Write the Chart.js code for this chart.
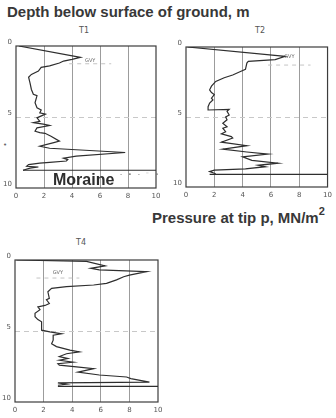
<!DOCTYPE html>
<html>
<head>
<meta charset="utf-8">
<script src="https://cdn.jsdelivr.net/npm/chart.js@4/dist/chart.umd.min.js"></script>
<style>
  body { margin:0; width:336px; height:418px; background:#fff; position:relative; overflow:hidden; font-family:"DejaVu Sans", sans-serif; }
  .panel { position:absolute; }
  .txt { position:absolute; white-space:nowrap; color:#3a3a3a; }
  .big { font-family:"Liberation Sans", Arial, sans-serif; font-weight:bold; font-size:15px; color:#383838; line-height:17px; }
  .small { font-size:8px; color:#555; }
</style>
</head>
<body>
<div class="txt big" style="left:7px;top:3px;">Depth below surface of ground, m</div>
<div class="txt big" style="left:152px;top:205px;">Pressure at tip p, MN/m<sup style="font-size:11px;position:relative;top:-2px;">2</sup></div>
<div class="txt small" style="left:79px;top:26px;">T1</div>
<div class="txt small" style="left:255px;top:26px;">T2</div>
<div class="txt small" style="left:76px;top:238px;">T4</div>
<div class="txt small" style="left:3px;top:141px;font-size:7px;color:#666;">•</div>

<div class="panel" style="left:0;top:24px;width:170px;height:184px;"><canvas id="c1"></canvas></div>
<div class="panel" style="left:170px;top:24px;width:166px;height:184px;"><canvas id="c2"></canvas></div>
<div class="panel" style="left:0;top:236px;width:170px;height:182px;"><canvas id="c4"></canvas></div>
<div class="txt big" style="left:53px;top:171px;font-size:16px;color:#2e2e2e;">Moraine</div>
<div class="txt" style="left:120px;top:170px;font-size:6px;color:#777;letter-spacing:2px;">- ∙ - ⁻ ∙</div>

<script>
// ---- data (pressure MN/m2, depth m) ----
var t1Pressure = [0.2, 4.6, 4.0, 3.4, 3.1, 2.4, 1.8, 1.6, 1.1, 0.9, 1.0, 1.1, 1.24, 1.5, 1.36, 1.5, 1.8, 1.7, 2.1, 1.5, 1.7, 1.24, 1.95, 2.4, 1.5, 1.36, 1.7, 2.07, 2.5, 3.1, 2.7, 1.7, 2.4, 7.8, 4.3, 3.4, 3.7, 3.6, 2.4, 1.7, 0.9, 0.76, 1.6, 1.0, 0.5];
var t1Depth    = [0.0, 0.8, 0.94, 1.06, 1.2, 1.4, 1.5, 1.76, 2.0, 2.2, 2.6, 3.06, 3.4, 3.5, 4.0, 4.35, 4.5, 4.7, 4.8, 5.06, 5.3, 5.4, 5.5, 5.6, 5.76, 6.0, 6.1, 6.15, 6.35, 6.7, 6.8, 7.06, 7.2, 7.5, 7.76, 7.9, 8.0, 8.1, 8.2, 8.25, 8.35, 8.47, 8.52, 8.6, 8.75];

var t2Pressure = [0.1, 7.0, 6.3, 4.4, 4.3, 4.2, 3.85, 3.3, 2.7, 2.1, 1.8, 1.67, 1.8, 2.0, 1.8, 1.9, 1.67, 1.56, 1.56, 3.05, 2.9, 3.05, 2.8, 2.9, 2.6, 2.9, 2.6, 2.8, 2.5, 3.2, 3.3, 2.5, 4.3, 2.6, 4.3, 5.8, 4.0, 4.65, 6.5, 5.1, 5.6, 4.2, 2.0, 1.67, 2.1];
var t2Depth    = [0.0, 0.67, 0.9, 1.03, 1.15, 1.6, 1.75, 2.0, 2.2, 2.46, 2.8, 3.06, 3.25, 3.4, 3.66, 3.78, 4.0, 4.26, 4.5, 4.45, 4.6, 4.86, 5.0, 5.2, 5.45, 5.7, 5.8, 6.05, 6.2, 6.4, 6.5, 6.8, 7.05, 7.3, 7.5, 7.65, 7.85, 8.1, 8.3, 8.45, 8.55, 8.7, 8.8, 8.9, 9.05];

var t4Pressure = [0.1, 5.0, 6.3, 5.3, 5.9, 9.2, 8.0, 7.6, 7.1, 6.4, 5.5, 3.6, 2.56, 2.3, 2.4, 2.2, 2.4, 2.1, 1.6, 1.75, 1.4, 1.4, 1.6, 1.86, 1.86, 2.44, 3.26, 2.67, 2.67, 2.56, 2.9, 3.84, 4.5, 3.6, 3.1, 3.7, 3.1, 4.07, 3.0, 3.1, 4.3, 5.5, 4.4, 5.9, 7.8, 8.1, 9.4, 3.0, 3.6, 3.0];
var t4Depth    = [0.0, 0.1, 0.42, 0.59, 0.7, 0.82, 1.06, 1.18, 1.4, 1.65, 1.76, 1.88, 2.0, 2.24, 2.7, 2.8, 3.06, 3.2, 3.3, 3.5, 3.76, 4.0, 4.2, 4.35, 4.94, 5.06, 5.2, 5.3, 5.65, 5.9, 6.1, 6.35, 6.47, 6.6, 6.8, 6.94, 7.06, 7.2, 7.3, 7.4, 7.53, 7.65, 7.9, 8.1, 8.24, 8.35, 8.6, 8.66, 8.75, 8.82];

// end-of-sounding lines [from pressure, to pressure, depth]
var t1Stop = [0.5, 10, 8.75];
var t2Stop = [1.67, 10, 9.1];
var t4Stop = [3.0, 10, 8.9];

// groundwater level (GVY) [label pressure, label depth, line depth]
var t1Gvy = [5.3, 1.2, 1.25];
var t2Gvy = [7.3, 0.9, 1.29];
var t4Gvy = [3.0, 1.1, 1.27];

var xTicks = [0, 2, 4, 6, 8, 10];
var yTicks = [0, 5, 10];

function zip(ps, ds) {
  return ps.map(function(p, i) { return { x: p, y: ds[i] }; });
}

// draws the plot frame and the GVY mark
var framePlugin = {
  id: 'frame',
  beforeDatasetsDraw: function(chart) {
    var a = chart.chartArea, ctx = chart.ctx;
    var gvy = chart.options.plugins.frame.gvy;
    var xs = chart.scales.x, ys = chart.scales.y;
    ctx.save();
    // faint dashed groundwater line
    ctx.strokeStyle = '#c4c4c4';
    ctx.lineWidth = 1;
    ctx.setLineDash([4, 4]);
    ctx.beginPath();
    ctx.moveTo(xs.getPixelForValue(gvy[0] - 1.5), ys.getPixelForValue(gvy[2]));
    ctx.lineTo(xs.getPixelForValue(gvy[0] + 1.5), ys.getPixelForValue(gvy[2]));
    ctx.stroke();
    ctx.setLineDash([]);
    ctx.fillStyle = '#666';
    ctx.font = '5px "DejaVu Sans"';
    ctx.textAlign = 'center';
    ctx.textBaseline = 'bottom';
    ctx.fillText('GVY', xs.getPixelForValue(gvy[0]), ys.getPixelForValue(gvy[1]));
    // frame
    ctx.strokeStyle = '#3c3c3c';
    ctx.lineWidth = 1.2;
    ctx.strokeRect(a.left, a.top, a.right - a.left, a.bottom - a.top);
    ctx.restore();
  }
};

function makeChart(id, ps, ds, stop, gvy, box) {
  var ctx = document.getElementById(id);
  return new Chart(ctx, {
    type: 'scatter',
    data: {
      datasets: [{
        data: zip(ps, ds),
        showLine: true,
        borderColor: '#2e2e2e',
        borderWidth: 1.2,
        pointRadius: 0,
        tension: 0
      }, {
        data: [{ x: stop[0], y: stop[2] }, { x: stop[1], y: stop[2] }],
        showLine: true,
        borderColor: '#2e2e2e',
        borderWidth: 1.1,
        pointRadius: 0
      }]
    },
    options: {
      responsive: true,
      maintainAspectRatio: false,
      animation: false,
      events: [],
      layout: { padding: { top: box.top, right: box.right, left: 0, bottom: 0 } },
      plugins: {
        legend: { display: false },
        tooltip: { enabled: false },
        frame: { gvy: gvy }
      },
      scales: {
        x: {
          type: 'linear', min: 0, max: 10,
          afterBuildTicks: function(s) { s.ticks = xTicks.map(function(v) { return { value: v }; }); },
          afterFit: function(s) { s.height = box.xh; },
          grid: {
            drawTicks: false,
            lineWidth: 1,
            color: function(c) { return (c.tick && (c.tick.value === 0 || c.tick.value === 10)) ? 'rgba(0,0,0,0)' : '#9c9c9c'; }
          },
          border: { display: false },
          ticks: { padding: 4, color: '#555', font: { size: 7, family: '"DejaVu Sans"' }, maxRotation: 0 }
        },
        y: {
          type: 'linear', min: 0, max: 10, reverse: true,
          afterBuildTicks: function(s) { s.ticks = yTicks.map(function(v) { return { value: v }; }); },
          afterFit: function(s) { s.width = box.yw; },
          grid: {
            drawTicks: false,
            color: function(c) { return (c.tick && c.tick.value === 5) ? '#c8c8c8' : 'rgba(0,0,0,0)'; }
          },
          border: { display: false, dash: [5, 4] },
          ticks: { padding: 4, labelOffset: -4, color: '#555', font: { size: 7, family: '"DejaVu Sans"' } }
        }
      }
    },
    plugins: [framePlugin]
  });
}

makeChart('c1', t1Pressure, t1Depth, t1Stop, t1Gvy, { top: 22, right: 14, yw: 16, xh: 20 });
makeChart('c2', t2Pressure, t2Depth, t2Stop, t2Gvy, { top: 23, right: 5, yw: 16, xh: 21 });
makeChart('c4', t4Pressure, t4Depth, t4Stop, t4Gvy, { top: 24, right: 12, yw: 15, xh: 16 });
</script>
</body>
</html>
